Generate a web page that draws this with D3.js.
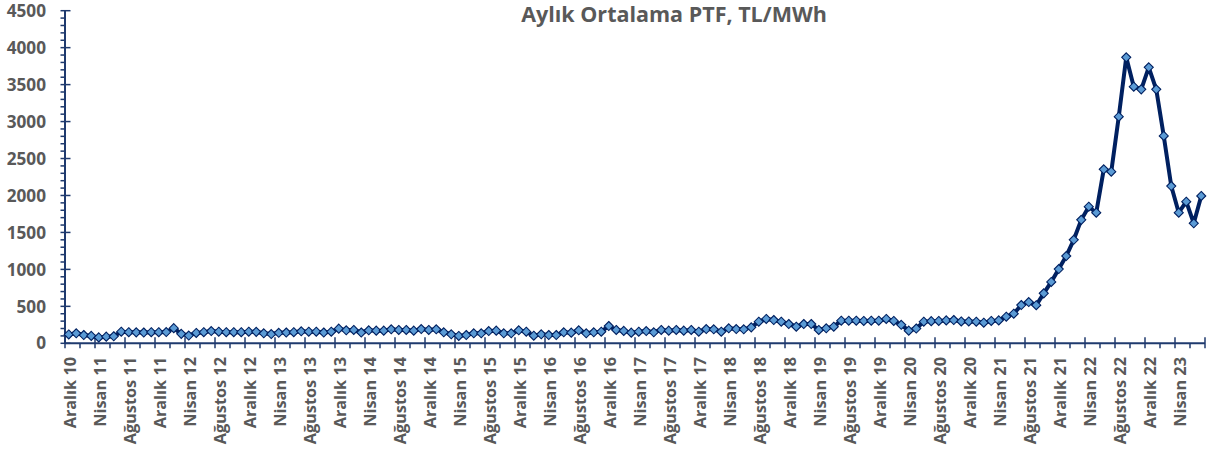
<!DOCTYPE html>
<html>
<head>
<meta charset="utf-8">
<script src="https://cdn.jsdelivr.net/npm/d3@7"></script>
<style>
  html, body { margin: 0; padding: 0; background: #fff; }
  svg { display: block; }
  text { font-family: "Open Sans", "Liberation Sans", sans-serif; font-weight: 700; fill: #595959; }
</style>
</head>
<body>
<svg id="chart" width="1215" height="451"></svg>
<script>
// ---- data ----
const title = "Aylık Ortalama PTF, TL/MWh";
const monthNames = ["Ocak","Şubat","Mart","Nisan","Mayıs","Haziran","Temmuz","Ağustos","Eylül","Ekim","Kasım","Aralık"];
// first category: Aralık 2010, last: Temmuz 2023
const startYear = 2010, startMonth = 11, monthCount = 152;
const categories = d3.range(monthCount).map(i => {
  const m = (startMonth + i) % 12, yr = startYear + Math.floor((startMonth + i) / 12);
  return monthNames[m] + " " + String(yr % 100).padStart(2, "0");
});
const ptfValues = [
  120,135,112,100,80,90,95,157,150,148,146,150,
  150,152,205,128,105,140,150,166,157,150,150,150,
  157,155,135,125,142,146,150,162,157,157,146,157,
  198,176,180,146,176,171,171,189,180,180,171,193,
  180,189,149,122,99,112,135,135,166,171,135,135,
  176,157,103,122,112,112,149,144,176,135,149,157,
  234,180,168,144,157,166,149,180,171,180,171,180,
  157,193,189,157,203,193,189,216,292,329,315,292,
  261,225,261,261,180,203,225,306,306,306,302,306,
  306,329,302,250,171,200,292,300,302,310,315,295,
  295,292,279,302,310,360,400,518,558,515,676,830,
  1005,1181,1400,1670,1848,1767,2354,2322,3066,3869,3472,3436,
  3734,3436,2805,2128,1767,1916,1624,1993
];
const yTicks = [0,500,1000,1500,2000,2500,3000,3500,4000,4500];
const yMinorTicks = d3.range(0, 4501, 100);
const tickLabels = ["Aralık 10","Nisan 11","Ağustos 11","Aralık 11","Nisan 12","Ağustos 12","Aralık 12",
  "Nisan 13","Ağustos 13","Aralık 13","Nisan 14","Ağustos 14","Aralık 14","Nisan 15","Ağustos 15","Aralık 15",
  "Nisan 16","Ağustos 16","Aralık 16","Nisan 17","Ağustos 17","Aralık 17","Nisan 18","Ağustos 18","Aralık 18",
  "Nisan 19","Ağustos 19","Aralık 19","Nisan 20","Ağustos 20","Aralık 20","Nisan 21","Ağustos 21","Aralık 21",
  "Nisan 22","Ağustos 22","Aralık 22","Nisan 23"];

// ---- layout ----
const svg = d3.select("#chart");
const plotLeft = 65, plotRight = 1205, plotTop = 10.7, plotBottom = 343.3;
const axisColor = "#1f3a6e", lineColor = "#002060", markerFill = "#5b9bd5";

const x = d3.scaleBand().domain(categories).range([plotLeft, plotRight]).paddingInner(0).paddingOuter(0);
const y = d3.scaleLinear().domain([0, 4500]).range([plotBottom, plotTop]);
const cx = c => x(c) + x.bandwidth() / 2;

// title
svg.append("text").attr("x", 674).attr("y", 22).attr("text-anchor", "middle")
  .style("font-size", "21.5px").text(title);

// y axis
const gy = svg.append("g");
gy.append("line").attr("x1", plotLeft).attr("x2", plotLeft).attr("y1", y(4500)).attr("y2", y(0))
  .attr("stroke", axisColor).attr("stroke-width", 2);
gy.selectAll("line.minor").data(yMinorTicks.filter(v => v % 500 !== 0)).join("line")
  .attr("class", "minor").attr("x1", plotLeft - 4.5).attr("x2", plotLeft).attr("y1", d => y(d)).attr("y2", d => y(d))
  .attr("stroke", axisColor).attr("stroke-width", 1.5);
gy.selectAll("line.major").data(yTicks).join("line")
  .attr("class", "major").attr("x1", plotLeft - 4.5).attr("x2", plotLeft + 5.5).attr("y1", d => y(d)).attr("y2", d => y(d))
  .attr("stroke", axisColor).attr("stroke-width", 1.5);
gy.selectAll("text").data(yTicks).join("text")
  .attr("x", 46).attr("y", d => y(d)).attr("dy", "0.36em").attr("text-anchor", "end")
  .style("font-size", "17.2px").text(d => d);

// x axis
const gx = svg.append("g");
gx.append("line").attr("x1", plotLeft).attr("x2", plotRight).attr("y1", plotBottom).attr("y2", plotBottom)
  .attr("stroke", axisColor).attr("stroke-width", 2);
const boundaries = categories.map(c => x(c)).concat([plotRight]);
gx.selectAll("line.tk").data(boundaries.map((b, i) => ({b, i})).filter(d => d.i % 2 === 0)).join("line")
  .attr("class", "tk")
  .attr("x1", d => d.b).attr("x2", d => d.b)
  .attr("y1", d => d.i % 4 === 0 ? plotBottom - 6 : plotBottom)
  .attr("y2", plotBottom + 5)
  .attr("stroke", axisColor).attr("stroke-width", 1.5);
const labelCats = categories.filter((c, i) => i % 4 === 0);
gx.selectAll("text").data(labelCats).join("text")
  .attr("transform", c => `translate(${cx(c) + 1.5},357) rotate(-90)`)
  .attr("dy", "0.36em").attr("text-anchor", "end")
  .style("font-size", "16.3px").text((c, i) => tickLabels[i]);

// line
const pts = categories.map((c, i) => ({c, v: ptfValues[i]}));
svg.append("path").datum(pts)
  .attr("d", d3.line().x(d => cx(d.c)).y(d => y(d.v)))
  .attr("fill", "none").attr("stroke", lineColor).attr("stroke-width", 4).attr("stroke-linejoin", "round");

// diamond markers
const sym = d3.symbol().type(d3.symbolDiamond2).size(52);
svg.append("g").selectAll("path").data(pts).join("path")
  .attr("transform", d => `translate(${cx(d.c)},${y(d.v)})`)
  .attr("d", sym)
  .attr("fill", markerFill).attr("stroke", lineColor).attr("stroke-width", 1.1);
</script>
</body>
</html>
